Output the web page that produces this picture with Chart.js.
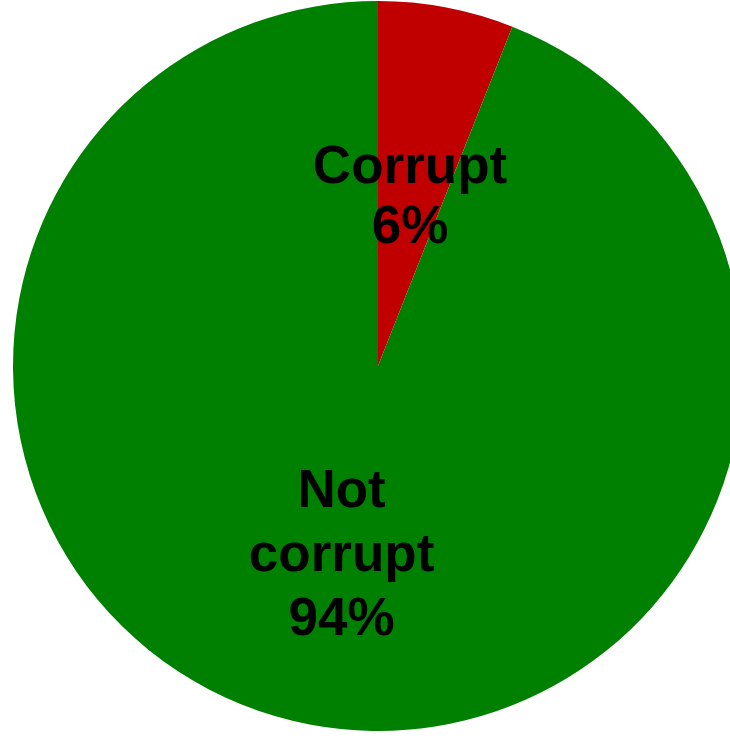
<!DOCTYPE html>
<html>
<head>
<meta charset="utf-8">
<script src="https://cdn.jsdelivr.net/npm/chart.js@4"></script>
<style>
  html, body { margin: 0; padding: 0; background: #fff; overflow: hidden; width: 730px; height: 738px; }
  #wrap { position: absolute; left: 0; top: 0; width: 756px; height: 738px; }
</style>
</head>
<body>
<div id="wrap"><canvas id="grafico" width="756" height="738"></canvas></div>
<script>
const categorias = ['Corrupt', 'Not corrupt'];
const rotulos = [['Corrupt', '6%'], ['Not', 'corrupt', '94%']];
const valores = [6, 94];
const cores = ['#C00000', '#008000'];

// Desenha os rótulos dentro de cada fatia
const rotulosPlugin = {
  id: 'rotulos',
  afterDatasetsDraw(chart) {
    const ctx = chart.ctx;
    const meta = chart.getDatasetMeta(0);
    ctx.save();
    ctx.fillStyle = '#000';
    ctx.font = 'bold 53px "Liberation Sans", Arial, sans-serif';
    ctx.textAlign = 'center';
    ctx.textBaseline = 'middle';
    meta.data.forEach((arco, i) => {
      const p = arco.getProps(['x', 'y', 'startAngle', 'endAngle', 'outerRadius'], true);
      const meio = (p.startAngle + p.endAngle) / 2;
      const frac = i === 0 ? 0.468 : 0.532;
      const cx = p.x + Math.cos(meio) * p.outerRadius * frac;
      const cy = p.y + Math.sin(meio) * p.outerRadius * frac;
      const linhas = rotulos[i];
      const alt = i === 0 ? 60 : 64;  // espaçamento entre linhas
      linhas.forEach((txt, j) => {
        ctx.fillText(txt, cx, cy + (j - (linhas.length - 1) / 2) * alt);
      });
    });
    ctx.restore();
  }
};

new Chart(document.getElementById('grafico'), {
  type: 'pie',
  data: {
    labels: categorias,
    datasets: [{
      data: valores,
      backgroundColor: cores,
      borderWidth: 0
    }]
  },
  options: {
    responsive: false,
    animation: false,
    devicePixelRatio: 1,
    layout: { padding: { left: 13, right: 13, top: 1, bottom: 7 } },
    plugins: {
      legend: { display: false },
      tooltip: { enabled: false }
    }
  },
  plugins: [rotulosPlugin]
});
</script>
</body>
</html>
